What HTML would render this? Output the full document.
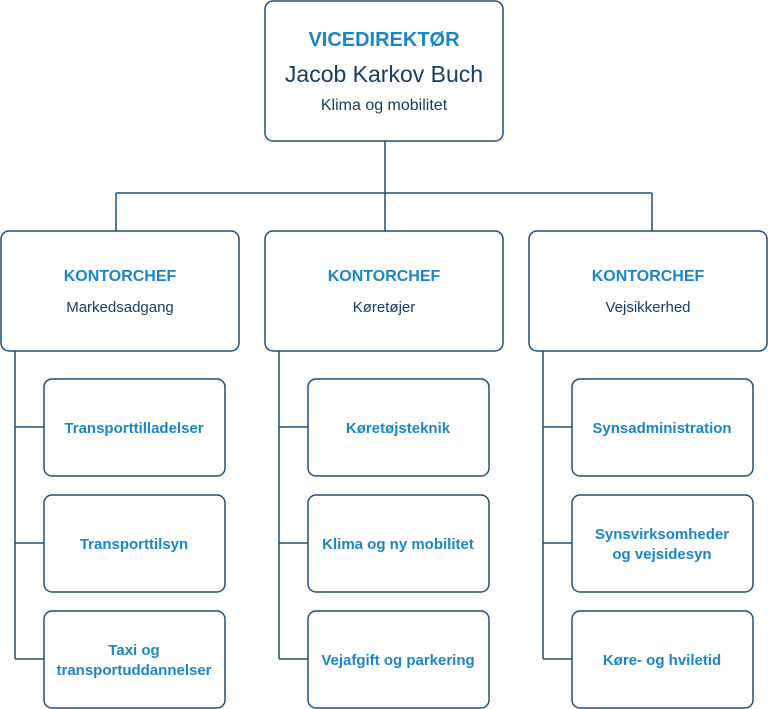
<!DOCTYPE html>
<html><head><style>
body{margin:0;background:#fff;}
svg{display:block;font-family:"Liberation Sans",sans-serif;}
.b{fill:#fff;stroke:#1f4f78;stroke-width:1.5;}
.l{stroke:#1f4f78;stroke-width:1.5;fill:none;}
.h{fill:#1a86c8;font-weight:bold;text-anchor:middle;}
.d{fill:#173d60;text-anchor:middle;}
</style></head><body>
<svg width="768" height="709" viewBox="0 0 768 709">
<path class="l" d="M385 141V193M116 193H652M116 193V231M385 193V231M652 193V231"/>
<path class="l" d="M15 351V659M15 427H44M15 543H44M15 659H44"/>
<path class="l" d="M279 351V659M279 427H308M279 543H308M279 659H308"/>
<path class="l" d="M543 351V659M543 427H572M543 543H572M543 659H572"/>
<rect class="b" x="265" y="1" width="238" height="140" rx="8"/>
<text class="h" x="384" y="46" font-size="20">VICEDIREKTØR</text>
<text class="d" x="384" y="82" font-size="23">Jacob Karkov Buch</text>
<text class="d" x="384" y="110" font-size="16">Klima og mobilitet</text>
<rect class="b" x="1" y="231" width="238" height="120" rx="8"/>
<rect class="b" x="265" y="231" width="238" height="120" rx="8"/>
<rect class="b" x="529" y="231" width="238" height="120" rx="8"/>
<text class="h" x="120" y="281" font-size="16">KONTORCHEF</text>
<text class="d" x="120" y="312" font-size="15">Markedsadgang</text>
<text class="h" x="384" y="281" font-size="16">KONTORCHEF</text>
<text class="d" x="384" y="312" font-size="15">Køretøjer</text>
<text class="h" x="648" y="281" font-size="16">KONTORCHEF</text>
<text class="d" x="648" y="312" font-size="15">Vejsikkerhed</text>
<g>
<rect class="b" x="44" y="379" width="181" height="97" rx="8"/>
<rect class="b" x="44" y="495" width="181" height="97" rx="8"/>
<rect class="b" x="44" y="611" width="181" height="97" rx="8"/>
<rect class="b" x="308" y="379" width="181" height="97" rx="8"/>
<rect class="b" x="308" y="495" width="181" height="97" rx="8"/>
<rect class="b" x="308" y="611" width="181" height="97" rx="8"/>
<rect class="b" x="572" y="379" width="181" height="97" rx="8"/>
<rect class="b" x="572" y="495" width="181" height="97" rx="8"/>
<rect class="b" x="572" y="611" width="181" height="97" rx="8"/>
</g>
<g font-size="15">
<text class="h" x="134" y="433">Transporttilladelser</text>
<text class="h" x="134" y="549">Transporttilsyn</text>
<text class="h" x="134" y="655">Taxi og</text>
<text class="h" x="134" y="675">transportuddannelser</text>
<text class="h" x="398" y="433">Køretøjsteknik</text>
<text class="h" x="398" y="549">Klima og ny mobilitet</text>
<text class="h" x="398" y="665">Vejafgift og parkering</text>
<text class="h" x="662" y="433">Synsadministration</text>
<text class="h" x="662" y="539">Synsvirksomheder</text>
<text class="h" x="662" y="559">og vejsidesyn</text>
<text class="h" x="662" y="665">Køre- og hviletid</text>
</g>
</svg>
</body></html>
